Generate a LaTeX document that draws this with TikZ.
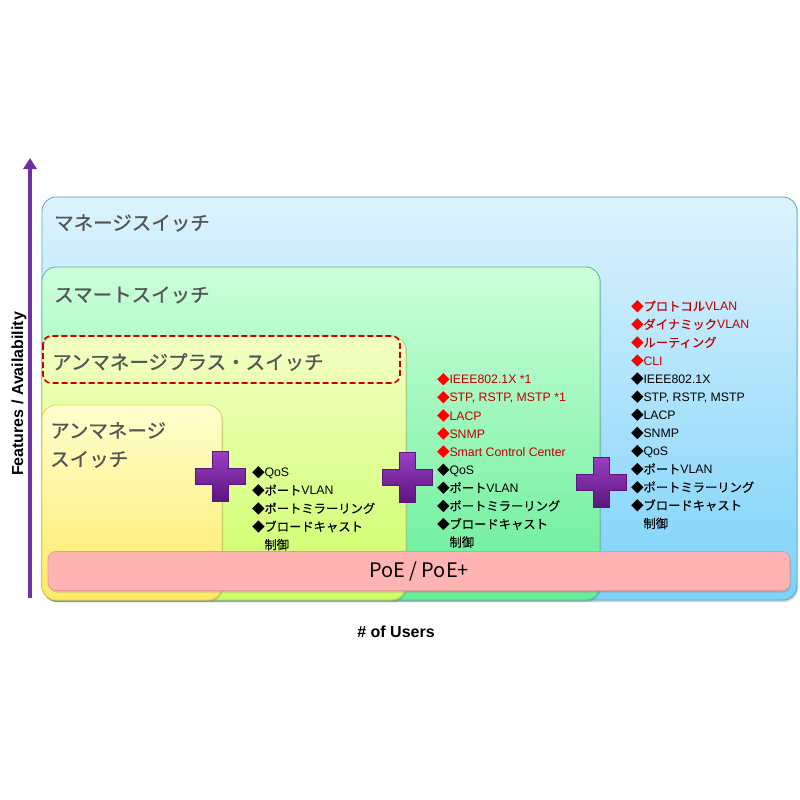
\documentclass[tikz,border=0pt]{standalone}
\usepackage{fontspec}
\setmainfont{Noto Sans CJK JP}
\newfontfamily\lsans{Liberation Sans}
\newfontfamily\tfont{Noto Sans CJK JP}[FakeBold=0.9]
\newfontfamily\lfont{Noto Sans CJK JP}[FakeBold=0.3]
\usetikzlibrary{arrows.meta,shadows}
\definecolor{axispurple}{HTML}{7030A0}
\definecolor{titlegray}{HTML}{555555}
\definecolor{rdia}{HTML}{FF0000}
\definecolor{rtext}{HTML}{C00000}
\definecolor{bluebd}{HTML}{4BACC6}
\definecolor{bluetop}{HTML}{DDF3FD}
\definecolor{bluebot}{HTML}{7CD2FA}
\definecolor{greenbd}{HTML}{4CC08C}
\definecolor{greentop}{HTML}{CCFFDA}
\definecolor{greenbot}{HTML}{66EE98}
\definecolor{ygbd}{HTML}{B4D45A}
\definecolor{ygtop}{HTML}{F2FFC4}
\definecolor{ygbot}{HTML}{CCFF66}
\definecolor{ylbd}{HTML}{E6CF4A}
\definecolor{yltop}{HTML}{FFFFD0}
\definecolor{ylbot}{HTML}{FFEA66}
\definecolor{poefill}{HTML}{FFB4B4}
\definecolor{poebd}{HTML}{E49A9A}
\definecolor{crosstop}{HTML}{9B3FC4}
\definecolor{crossbot}{HTML}{5C157E}
\definecolor{dashred}{HTML}{CC0000}
\newcommand\blk{◆}
\newcommand\lat[1]{{\lsans #1}}
\newcommand\ritem[1]{\textcolor{rdia}{◆}\textcolor{rtext}{#1}}
\begin{document}
\begin{tikzpicture}[x=1pt,y=-1pt,
  box/.style={rounded corners=14pt, line width=0.8pt,
    drop shadow={shadow xshift=1pt, shadow yshift=-2pt, opacity=0.35}},
  title/.style={anchor=west, inner sep=0pt, text=titlegray, font=\tfont\fontsize{19.5}{22}\selectfont},
  listtxt/.style={anchor=north west, inner sep=0pt, align=left, font=\lfont\fontsize{12.3}{18.1}\selectfont},
  axislbl/.style={inner sep=0pt, font=\lsans\bfseries\fontsize{16}{18}\selectfont},
  axis/.style={line width=3.5pt, draw=axispurple, -{Triangle[width=13pt,length=11pt]}},
  cross/.pic={\path[top color=crosstop, bottom color=crossbot, draw=crossbot, line width=0.6pt]
    (-8,-25) -- (8,-25) -- (8,-8) -- (25,-8) -- (25,8) -- (8,8) -- (8,25) -- (-8,25)
    -- (-8,8) -- (-25,8) -- (-25,-8) -- (-8,-8) -- cycle;}
]
\useasboundingbox (0,0) rectangle (800,800);
\fill[white] (0,0) rectangle (800,800);

% boxes
\path[box, draw=bluebd, top color=bluetop, bottom color=bluebot] (42,197) rectangle (797,600);
\path[box, draw=greenbd, top color=greentop, bottom color=greenbot] (42,267) rectangle (600,600);
\path[box, draw=ygbd, top color=ygtop, bottom color=ygbot] (42,336) rectangle (406,600);
\path[box, draw=ylbd, top color=yltop, bottom color=ylbot] (42,405) rectangle (222,600);
\draw[dashred, dash pattern=on 6pt off 3pt, line width=1.6pt, rounded corners=8pt] (43,336) rectangle (400,383);

% axis
\coordinate (ybot) at (30,598);
\coordinate (ytop) at (30,158);
\draw[axis] (ybot) -- (ytop);
\node[axislbl, rotate=90] (ylbl) at (19,394) {Features / Availability};
\node[axislbl] (xlbl) at (396,632) {\# of Users};

% titles
\node[title] (tman) at (54,223) {マネージスイッチ};
\node[title] (tsmart) at (54,295) {スマートスイッチ};
\node[title] (tplus) at (52,362) {アンマネージプラス・スイッチ};
\node[title, align=left, font=\tfont\fontsize{19.5}{28.5}\selectfont, anchor=north west] (tun) at (50,422) {アンマネージ\\スイッチ};

% crosses
\pic (c1) at (220,476) {cross};
\pic (c2) at (407,477) {cross};
\pic (c3) at (601,482) {cross};

% lists
\node[listtxt] (l1) at (252,466) {\blk\lat{QoS}\\\blk ポート\lat{VLAN}\\\blk ポートミラーリング\\\blk ブロードキャスト\\\hspace*{1em}制御};
\node[listtxt] (l2) at (437,373) {\ritem{\lat{IEEE802.1X *1}}\\\ritem{\lat{STP, RSTP, MSTP *1}}\\\ritem{\lat{LACP}}\\\ritem{\lat{SNMP}}\\\ritem{\lat{Smart Control Center}}\\\blk\lat{QoS}\\\blk ポート\lat{VLAN}\\\blk ポートミラーリング\\\blk ブロードキャスト\\\hspace*{1em}制御};
\node[listtxt] (l3) at (631,300) {\ritem{プロトコル\lat{VLAN}}\\\ritem{ダイナミック\lat{VLAN}}\\\ritem{ルーティング}\\\ritem{\lat{CLI}}\\\blk\lat{IEEE802.1X}\\\blk\lat{STP, RSTP, MSTP}\\\blk\lat{LACP}\\\blk\lat{SNMP}\\\blk\lat{QoS}\\\blk ポート\lat{VLAN}\\\blk ポートミラーリング\\\blk ブロードキャスト\\\hspace*{1em}制御};

% PoE bar
\node[draw=poebd, fill=poefill, rounded corners=8pt, line width=0.8pt,
  minimum width=742pt, minimum height=39pt, inner sep=0pt,
  drop shadow={shadow xshift=1pt, shadow yshift=-2pt, opacity=0.35},
  font=\fontsize{20}{24}\selectfont] (poe) at (419,571) {\raisebox{-6pt}{PoE / PoE+}};
\end{tikzpicture}
\end{document}
